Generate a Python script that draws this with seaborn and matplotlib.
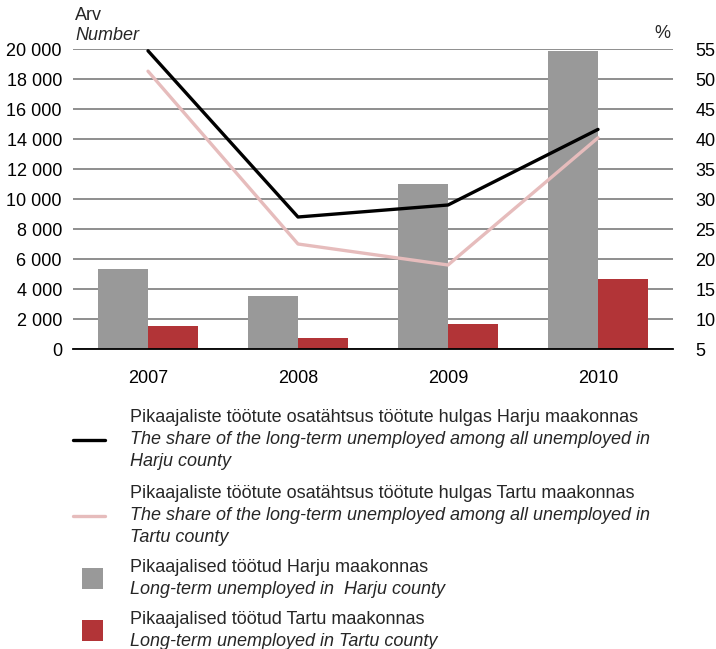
import matplotlib
matplotlib.use("Agg")
import matplotlib.pyplot as plt
from matplotlib.lines import Line2D
from matplotlib.patches import Rectangle
from matplotlib.ticker import FuncFormatter
import numpy as np
import pandas as pd
import seaborn as sns

years = ["2007", "2008", "2009", "2010"]
harju_count = [5330, 3530, 11000, 19870]
tartu_count = [1530, 730, 1670, 4670]
harju_share = [54.7, 27.0, 29.0, 41.6]
tartu_share = [51.3, 22.5, 19.0, 40.2]

count_names = ["Harju", "Tartu"]
bar_colors = ["#999999", "#B23437"]
line_colors = ["#000000", "#E6BCBC"]

legend_entries = [
    ("line", line_colors[0],
     "Pikaajaliste töötute osatähtsus töötute hulgas Harju maakonnas",
     ["The share of the long-term unemployed among all unemployed in",
      "Harju county"]),
    ("line", line_colors[1],
     "Pikaajaliste töötute osatähtsus töötute hulgas Tartu maakonnas",
     ["The share of the long-term unemployed among all unemployed in",
      "Tartu county"]),
    ("box", bar_colors[0],
     "Pikaajalised töötud Harju maakonnas",
     ["Long-term unemployed in  Harju county"]),
    ("box", bar_colors[1],
     "Pikaajalised töötud Tartu maakonnas",
     ["Long-term unemployed in Tartu county"]),
]

sns.set_theme(style="white")
plt.rcParams["font.family"] = ["Liberation Sans", "DejaVu Sans"]
FS = 13

df = pd.DataFrame({
    "year": years * 2,
    "county": [count_names[0]] * 4 + [count_names[1]] * 4,
    "count": harju_count + tartu_count,
})

W, H = 716, 649
fig = plt.figure(figsize=(W / 100, H / 100), dpi=100)
ax = fig.add_axes([73 / W, 1 - 349 / H, 600 / W, 300 / H])

sns.barplot(data=df, x="year", y="count", hue="county", order=years,
            hue_order=count_names, palette=bar_colors, width=0.67, gap=0,
            saturation=1, legend=False, ax=ax, edgecolor="none", linewidth=0)

ax.set_ylim(0, 20000)
ax.set_yticks(np.arange(0, 20001, 2000))
ax.yaxis.set_major_formatter(FuncFormatter(lambda v, p: f"{int(v):,}".replace(",", " ")))
ax.set_xlim(-0.5, 3.5)
ax.set_xlabel("")
ax.set_ylabel("")
ax.set_axisbelow(True)
ax.yaxis.grid(True, color="#868686", linewidth=1.3)
ax.xaxis.grid(False)
for s in ["left", "right", "top"]:
    ax.spines[s].set_visible(False)
ax.spines["bottom"].set_color("black")
ax.spines["bottom"].set_linewidth(1.3)
ax.tick_params(axis="y", length=0, pad=8, labelsize=FS, labelcolor="black")
ax.tick_params(axis="x", length=0, pad=15, labelsize=FS, labelcolor="black")

ax2 = ax.twinx()
pos = np.arange(len(years))
sns.lineplot(x=pos, y=harju_share, color=line_colors[0], linewidth=2.4,
             sort=False, ax=ax2, legend=False)
sns.lineplot(x=pos, y=tartu_share, color=line_colors[1], linewidth=2.4,
             sort=False, ax=ax2, legend=False)
ax2.set_ylim(5, 55)
ax2.set_yticks(np.arange(5, 56, 5))
ax2.set_xlim(-0.5, 3.5)
ax2.grid(False)
for s in ["left", "right", "top", "bottom"]:
    ax2.spines[s].set_visible(False)
ax2.tick_params(axis="y", length=0, pad=16, labelsize=FS, labelcolor="black")

fig.text(75 / W, 1 - 15 / H, "Arv", fontsize=FS, va="center", ha="left")
fig.text(75 / W, 1 - 35 / H, "Number", fontsize=FS, style="italic",
         va="center", ha="left")
fig.text(670 / W, 1 - 33 / H, "%", fontsize=FS, va="center", ha="right")

# legend drawn as figure artists
entry_tops = [418, 494, 567, 619]
line_step = 22
for (kind, color, main, sub), y0 in zip(legend_entries, entry_tops):
    fig.text(130 / W, 1 - y0 / H, main, fontsize=FS, va="center", ha="left")
    for i, s in enumerate(sub):
        fig.text(130 / W, 1 - (y0 + line_step * (i + 1)) / H, s, fontsize=FS,
                 style="italic", va="center", ha="left")
    n = 1 + len(sub)
    yc = y0 + line_step * (n - 1) / 2
    if kind == "line":
        fig.add_artist(Line2D([73 / W, 105 / W], [1 - yc / H, 1 - yc / H],
                              color=color, linewidth=2.4,
                              transform=fig.transFigure))
    else:
        fig.add_artist(Rectangle((82 / W, 1 - (yc + 11) / H), 21 / W, 21 / H,
                                 facecolor=color, edgecolor="none",
                                 transform=fig.transFigure))

fig.savefig("out.png", dpi=100)
